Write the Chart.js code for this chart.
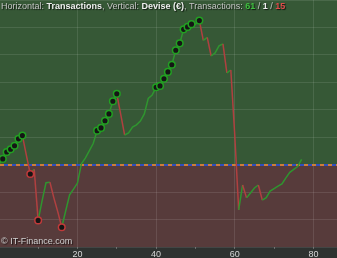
<!DOCTYPE html>
<html>
<head>
<meta charset="utf-8">
<script src="https://cdn.jsdelivr.net/npm/chart.js@4.4.1/dist/chart.umd.min.js"></script>
<style>
  html, body { margin: 0; padding: 0; background: #2e3230; overflow: hidden; }
  canvas { display: block; }
</style>
</head>
<body>
<canvas id="equity" width="337" height="258"></canvas>
<script>
// cumulative result after each transaction (€), transaction 0 = start
const equity = [
  0, 21, 46, 56, 69, 94, 106, 35, -34, -17,
  -203, -132, -66, -64, -121, -172, -228, -169, -110, -89,
  -67, 3, 24, 50, 77, 124, 134, 160, 185, 231,
  258, 183, 108, 116, 137, 145, 159, 185, 241, 254,
  282, 287, 313, 338, 364, 417, 442, 493, 502, 512,
  512, 525, 453, 464, 396, 407, 433, 440, 334, 345,
  108, -165, -74, -121, -103, -85, -74, -129, -120, -96,
  -87, -78, -70, -48, -28, -17, -7, 19,
];
const trades = equity.map((_, i) => i);
const newHighs = [1, 2, 3, 4, 5, 6, 25, 26, 27, 28, 29, 30, 40, 41, 42, 43, 44, 45, 46, 47, 48, 49, 51];
const newLows = [8, 10, 16];
const xTicks = [10, 20, 30, 40, 50, 60, 70, 80];
const counts = { win: 61, flat: 1, loss: 15 };

const GREEN = "#2f952f";
const RED = "#b04040";

function el(id) {
  return document.getElementById(id);
}

const backdrop = {
  id: "backdrop",
  beforeDraw(chart) {
    const { ctx, chartArea: a, scales } = chart;
    const y0 = scales.y.getPixelForValue(0);
    ctx.save();
    ctx.fillStyle = "#2e3230";
    ctx.fillRect(0, 0, chart.width, chart.height);
    ctx.fillStyle = "#365836";
    ctx.fillRect(a.left, a.top, a.right - a.left, y0 - a.top);
    ctx.fillStyle = "#573b3b";
    ctx.fillRect(a.left, y0, a.right - a.left, a.bottom - y0);
    ctx.restore();
  },
  beforeDatasetsDraw(chart) {
    const { ctx, chartArea: a, scales } = chart;
    const y0 = Math.round(scales.y.getPixelForValue(0));
    ctx.save();
    ctx.lineWidth = 2;
    ctx.strokeStyle = "#2f4fc0";
    ctx.beginPath();
    ctx.moveTo(a.left, y0);
    ctx.lineTo(a.right, y0);
    ctx.stroke();
    ctx.strokeStyle = "#cf7d3a";
    ctx.setLineDash([4, 4]);
    ctx.beginPath();
    ctx.moveTo(a.left, y0);
    ctx.lineTo(a.right, y0);
    ctx.stroke();
    ctx.restore();
  },
  afterDraw(chart) {
    const { ctx, chartArea: a } = chart;
    ctx.save();
    ctx.shadowColor = "rgba(0,0,0,.7)";
    ctx.shadowOffsetX = 1;
    ctx.shadowOffsetY = 1;
    ctx.shadowBlur = 1;
    ctx.textBaseline = "alphabetic";
    const parts = [
      ["Horizontal: ", false, "#c4c4c4"],
      ["Transactions", true, "#eeeeee"],
      [", Vertical: ", false, "#c4c4c4"],
      ["Devise (€)", true, "#eeeeee"],
      [", Transactions: ", false, "#c4c4c4"],
      [String(counts.win), true, "#3fbf3f"],
      [" / ", false, "#c4c4c4"],
      [String(counts.flat), true, "#eeeeee"],
      [" / ", false, "#c4c4c4"],
      [String(counts.loss), true, "#e04a4a"],
    ];
    let x = 1;
    for (const [txt, bold, color] of parts) {
      ctx.font = `${bold ? "bold " : ""}9px "Liberation Sans", Arial, sans-serif`;
      ctx.fillStyle = color;
      ctx.fillText(txt, x, 9);
      x += ctx.measureText(txt).width;
    }
    ctx.font = '9px "Liberation Sans", Arial, sans-serif';
    ctx.fillStyle = "#d0d0d0";
    ctx.fillText("© IT-Finance.com", a.left + 1, a.bottom - 3);
    ctx.restore();
  },
};

new Chart(el("equity"), {
  type: "line",
  data: {
    datasets: [
      {
        data: trades.map((t, i) => ({ x: t, y: equity[i] })),
        borderWidth: 1.5,
        tension: 0,
        segment: {
          borderColor: (c) => (c.p1.parsed.y < c.p0.parsed.y ? RED : GREEN),
        },
        pointRadius: (c) => (newHighs.includes(c.dataIndex) || newLows.includes(c.dataIndex) ? 3.3 : 0),
        pointBackgroundColor: "#151515",
        pointBorderColor: (c) => (newLows.includes(c.dataIndex) ? "#c03a3a" : "#22a022"),
        pointBorderWidth: 1.5,
        pointHoverRadius: 0,
      },
    ],
  },
  options: {
    responsive: false,
    animation: false,
    layout: { padding: 0 },
    plugins: { legend: { display: false }, tooltip: { enabled: false } },
    scales: {
      x: {
        type: "linear",
        min: 0.3,
        max: 86,
        afterBuildTicks: (s) => {
          s.ticks = xTicks.map((v) => ({ value: v }));
        },
        afterFit: (s) => {
          s.height = 11;
        },
        ticks: {
          callback: (v) => (v % 20 === 0 ? String(v) : ""),
          color: "#d6d6d6",
          font: { size: 9, family: '"Liberation Sans", Arial, sans-serif' },
          padding: 0,
          maxRotation: 0,
          autoSkip: false,
        },
        grid: {
          color: (c) => (c.tick && c.tick.value % 20 === 0 ? "rgba(255,255,255,.1)" : "rgba(0,0,0,0)"),
          tickColor: "#666",
          tickLength: 2,
        },
        border: { display: false },
      },
      y: {
        min: -300,
        max: 600,
        afterFit: (s) => {
          s.width = 0;
        },
        ticks: { display: false, stepSize: 100 },
        grid: { color: "rgba(255,255,255,.1)", drawTicks: false },
        border: { display: false },
      },
    },
  },
  plugins: [backdrop],
});
</script>
</body>
</html>
